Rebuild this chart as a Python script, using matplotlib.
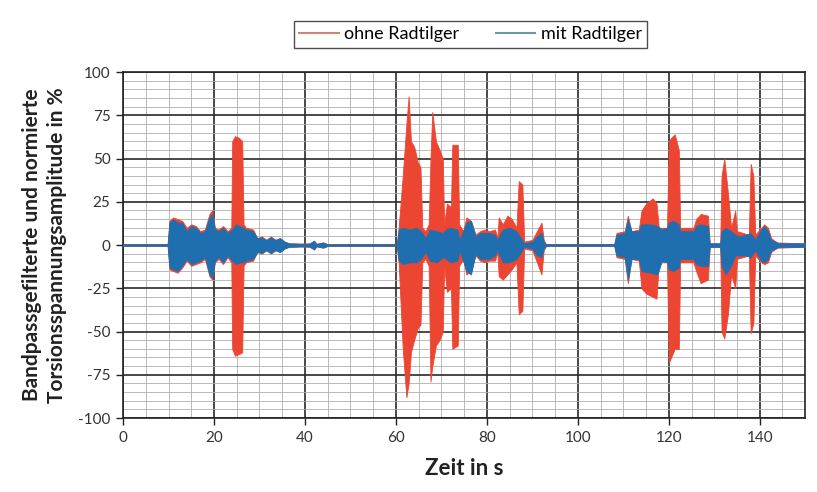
import matplotlib.pyplot as plt
from matplotlib.lines import Line2D
from matplotlib.ticker import MultipleLocator

# Huellkurven (Zeit in s, obere / untere Amplitude in %)
zeitOhne = [0, 9.8, 10.2, 11, 12, 13, 14, 15, 16, 17, 18, 19, 19.6, 20.2, 21, 22, 23, 23.8,
            24.0, 24.6, 25.5, 26.2, 26.5, 27, 28.6, 29.5, 30.5, 31.5, 32.5, 33.5, 34.5, 35.5,
            36.5, 38, 39, 41, 42, 42.5, 44, 45, 60.2, 60.6, 61.5, 62.3, 62.8, 63.3, 64, 64.8,
            65.4, 65.8, 66.5, 67.2, 67.6, 68, 68.8, 69.6, 70.3, 70.6, 71.2, 72.1, 72.4, 73.6,
            73.9, 74.8, 75.5, 76.5, 77.5, 78.5, 79.5, 80.5, 81.8, 82.3, 82.6, 83.5, 84.5, 85.5,
            86.5, 87.0, 87.8, 88.2, 90, 91, 92, 92.5, 93, 108, 108.5, 110.3, 111, 111.8, 113.4,
            114, 115, 116.5, 117.3, 117.8, 119.6, 120, 120.5, 121.3, 122.2, 122.5, 125.4, 126,
            127, 128.6, 129, 131.3, 131.6, 132.2, 133, 133.7, 134.6, 135, 137.6, 138, 138.6,
            139, 140.3, 141, 141.8, 142.5, 143.5, 144, 149.5, 150]
obenOhne = [0.5, 0.5, 14, 16, 15, 14, 10, 12, 11, 8, 9, 18, 20, 10, 9, 11, 8, 10,
            60, 63, 62, 60, 12, 10, 9, 4, 5, 3, 5, 3, 4, 2,
            1, 1, 0.8, 1, 2.5, 0.8, 1.5, 0.5, 0.5, 10, 40, 70, 86, 60, 57, 48,
            45, 10, 8, 12, 50, 77, 60, 55, 50, 12, 24, 22, 58, 58,
            12, 8, 16, 14, 6, 8, 9, 8, 9, 4, 16, 12, 17, 15,
            10, 37, 35, 2, 3, 8, 13, 3, 0.5, 0.5, 7, 8, 17, 8, 9,
            20, 24, 27, 24, 10, 10, 60, 62, 64, 55, 10, 10, 15,
            18, 17, 1, 1, 40, 50, 30, 10, 20, 8, 6, 47, 40,
            6, 10, 12, 10, 4, 2, 1.5, 1, 1]
untenOhne = [-0.5, -0.5, -14, -15, -16, -13, -9, -12, -11, -10, -8, -18, -20, -10, -8, -11, -7, -10,
             -60, -64, -63, -62, -12, -10, -9, -4, -5, -3, -5, -3, -4, -2,
             -1, -1, -0.8, -1, -2.5, -0.8, -1.5, -0.5, -0.5, -10, -60, -88, -80, -62, -55, -48,
             -46, -10, -8, -12, -79, -70, -58, -55, -50, -12, -27, -25, -60, -58,
             -12, -8, -17, -15, -6, -9, -10, -9, -9, -4, -18, -20, -17, -14,
             -10, -40, -38, -2, -3, -10, -17, -3, -0.5, -0.5, -7, -8, -22, -8, -9,
             -25, -28, -30, -31, -10, -10, -68, -65, -60, -60, -10, -10, -15,
             -22, -20, -1, -1, -50, -54, -40, -17, -25, -8, -6, -51, -45,
             -6, -10, -11, -10, -4, -2, -1.5, -1, -1]

zeitMit = [0, 9.8, 10.2, 11, 12, 13, 14, 15, 16, 17, 18, 19, 19.6, 20.2, 21, 22, 23, 24,
           24.8, 25.6, 26.5, 27, 28.6, 29.5, 30.5, 31.5, 32.5, 33.5, 34.5, 35.5, 36.5, 38,
           41, 42, 42.5, 44, 45, 60.2, 60.6, 61.5, 63, 64.5, 65.5, 66.5, 67.5, 69, 70.3, 71,
           72, 73.5, 74, 75.5, 76.5, 77.5, 78.5, 80.5, 81.8, 82.3, 83.5, 85, 86.5, 87.5, 88.2,
           90, 91, 92, 92.5, 93, 108, 108.5, 110.3, 111, 111.8, 113.4, 114, 116, 117.5, 118.5,
           119.6, 120, 121, 122.2, 122.5, 125.4, 126, 127, 128.6, 129, 131.3, 131.6, 132.5,
           133.7, 134.6, 135.5, 137, 138, 139, 140.3, 141, 141.8, 142.5, 143.5, 144, 150]
obenMit = [0.4, 0.4, 13, 15, 13, 13, 8, 11, 10, 7, 8, 16, 18, 9, 8, 10, 7, 9,
           12, 11, 10, 9, 8, 4, 4.5, 3, 4.5, 3, 4, 2, 1, 0.8,
           0.8, 2.5, 0.6, 1.5, 0.4, 0.4, 9, 10, 9, 10, 8, 4, 9, 8, 7, 9,
           10, 9, 3, 13, 14, 5, 7, 7, 6, 3, 9, 10, 8, 4, 1,
           2, 5, 7, 2, 0.4, 0.4, 6, 7, 15, 8, 8, 12, 12, 11, 9,
           10, 13, 14, 12, 8, 8, 11, 12, 11, 1, 1, 8, 10,
           8, 6, 5, 6, 7, 3, 9, 11, 8, 3, 2, 1, 1]
untenMit = [-0.4, -0.4, -13, -14, -15, -12, -8, -11, -10, -9, -7, -17, -19, -9, -7, -10, -6, -9,
            -11, -10, -10, -9, -8, -4, -4.5, -3, -4.5, -3, -4, -2, -1, -0.8,
            -0.8, -2.5, -0.6, -1.5, -0.4, -0.4, -9, -11, -10, -10, -8, -4, -9, -10, -7, -8,
            -10, -9, -3, -15, -17, -5, -8, -8, -6, -3, -10, -10, -8, -4, -1,
            -2, -6, -7, -2, -0.4, -0.4, -6, -7, -20, -8, -8, -15, -16, -17, -9,
            -10, -14, -15, -13, -8, -8, -11, -12, -12, -1, -1, -12, -17,
            -12, -6, -6, -6, -7, -3, -9, -10, -8, -3, -2, -1, -1]

xTicks = [0, 20, 40, 60, 80, 100, 120, 140]
yTicks = [-100, -75, -50, -25, 0, 25, 50, 75, 100]

plt.rcParams['font.family'] = ['Lato', 'DejaVu Sans']
plt.rcParams['axes.unicode_minus'] = False

fig = plt.figure(figsize=(8.17, 4.92), dpi=100)
ax = fig.add_axes([0.1506, 0.1504, 0.835, 0.703])

rot = '#ec4632'
blau = '#1f6fb0'
ax.fill_between(zeitOhne, untenOhne, obenOhne, color=rot, linewidth=0.6, edgecolor=rot, zorder=3)
ax.fill_between(zeitMit, untenMit, obenMit, color=blau, linewidth=0.6, edgecolor=blau, zorder=4)

ax.set_xlim(0, 150)
ax.set_ylim(-100, 100)
ax.set_xticks(xTicks)
ax.set_yticks(yTicks)
ax.xaxis.set_minor_locator(MultipleLocator(5))
ax.yaxis.set_minor_locator(MultipleLocator(5))
ax.grid(True, which='major', color='#2a2a2a', linewidth=1.2, zorder=1)
ax.grid(True, which='minor', color='#b0b0b0', linewidth=0.6, zorder=0)
ax.set_axisbelow(True)
for s in ax.spines.values():
    s.set_color('#222222')
    s.set_linewidth(1.2)
ax.tick_params(which='major', direction='out', length=5, width=1, color='#222222',
               labelsize=11, labelcolor='#333333', pad=4)
ax.tick_params(which='minor', length=0)

ax.set_xlabel('Zeit in s', fontsize=16, fontweight='bold', color='#222222', labelpad=10)
ax.set_ylabel('Bandpassgefilterte und normierte\nTorsionsspannungsamplitude in %',
              fontsize=15, fontweight='bold', color='#222222', labelpad=8, linespacing=1.3)

handles = [Line2D([], [], color='#c88878', linewidth=1.5),
           Line2D([], [], color='#6a98b0', linewidth=1.5)]
fig.legend(handles, ['ohne Radtilger', 'mit Radtilger'], loc='center',
           bbox_to_anchor=(0.576, 0.93), ncol=2, fontsize=13, frameon=True,
           fancybox=False, edgecolor='#222222', handlelength=2.2, handletextpad=0.3,
           columnspacing=2.0, borderpad=0.3)

fig.savefig('out.png', dpi=100)
